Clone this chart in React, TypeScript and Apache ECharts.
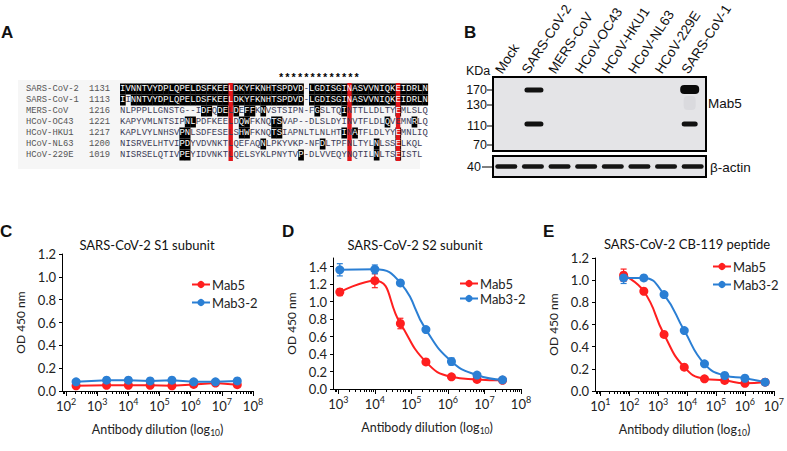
import React, { useEffect, useRef } from 'react';
import * as echarts from 'echarts';

// ---------- Panel A: alignment ----------
const alignNames = ['SARS-CoV-2', 'SARS-CoV-1', 'MERS-CoV', 'HCoV-OC43', 'HCoV-HKU1', 'HCoV-NL63', 'HCoV-229E'];
const alignStarts = ['1131', '1113', '1216', '1221', '1217', '1200', '1019'];
const alignSeqs = [
  'IVNNTVYDPLQPELDSFKEELDKYFKNHTSPDVD-LGDISGINASVVNIQKEIDRLN',
  'IINNTVYDPLQPELDSFKEELDKYFKNHTSPDVD-LGDISGINASVVNIQKEIDRLN',
  'NLPPPLLGNSTG--IDFQDELDEFFKNVSTSIPN-FGSLTQINTTLLDLTYEMLSLQ',
  'KAPYVMLNTSIPNLPDFKEELDQWFKNQTSVAP--DLSLDYINVTFLDLQVEMNRLQ',
  'KAPLVYLNHSVPNLSDFESELSHWFKNQTSIAPNLTLNLHTINATFLDLYYEMNLIQ',
  'NISRVELHTVIPDYVDVNKTLQEFAQNLPKYVKP-NFDLTPFNLTYLNLSSELKQL',
  'NISRSELQTIVPEYIDVNKTLQELSYKLPNYTVP-DLVVEQYNQTILNLTSEISTL',
];
// shaded (similar) positions for the non-SARS rows
const alignShaded: number[][] = [
  [],
  [],
  [15, 16, 18, 19, 21, 23, 24, 26, 36, 41, 51],
  [12, 13, 22, 23, 28, 29, 49, 54],
  [11, 12, 22, 23, 28, 29, 41, 43, 51],
  [11, 12, 26, 37, 47, 51],
  [11, 12, 33, 47, 51],
];
const conservedCols = [20, 42, 51];
const epitopeStars = '*************';

// ---------- Panel B: western blot ----------
const laneLabels = ['Mock', 'SARS-CoV-2', 'MERS-CoV', 'HCoV-OC43', 'HCoV-HKU1', 'HCoV-NL63', 'HCoV-229E', 'SARS-CoV-1'];
const kdaMarkers = ['170', '130', '110', '70'];
const kdaMarkerY = [90, 105, 126, 145];
const mab5BandLanes = [1, 7];

// ---------- Panel C ----------
const cDilution = [210, 2000, 10000, 50000, 250000, 1250000, 6250000, 31250000];
const cMab5 = [0.046, 0.05, 0.05, 0.05, 0.046, 0.058, 0.07, 0.055];
const cMab5Sd = [0.012, 0.012, 0.012, 0.012, 0.012, 0.012, 0.012, 0.012];
const cMab32 = [0.08, 0.095, 0.095, 0.088, 0.095, 0.08, 0.08, 0.088];
const cMab32Sd = [0.02, 0.02, 0.02, 0.02, 0.02, 0.015, 0.015, 0.015];
const cDecades = [2, 3, 4, 5, 6, 7, 8];
const cYTicks = [0, 0.2, 0.4, 0.6, 0.8, 1.0, 1.2];

// ---------- Panel D ----------
const dDilution = [1100, 10000, 50000, 250000, 1250000, 6250000, 31250000];
const dMab5 = [1.11, 1.24, 0.75, 0.31, 0.14, 0.11, 0.1];
const dMab5Sd = [0.04, 0.08, 0.06, 0.02, 0.01, 0.01, 0.01];
const dMab32 = [1.365, 1.37, 1.215, 0.68, 0.315, 0.16, 0.105];
const dMab32Sd = [0.07, 0.05, 0.02, 0.02, 0.04, 0.025, 0.01];
const dDecades = [3, 4, 5, 6, 7, 8];
const dYTicks = [0, 0.2, 0.4, 0.6, 0.8, 1.0, 1.2, 1.4];

// ---------- Panel E ----------
const eDilution = [64, 320, 1600, 8000, 40000, 200000, 1000000, 5000000];
const eMab5 = [1.045, 0.9, 0.51, 0.215, 0.11, 0.095, 0.07, 0.08];
const eMab5Sd = [0.055, 0.01, 0.01, 0.01, 0.01, 0.01, 0.01, 0.01];
const eMab32 = [1.02, 1.02, 0.87, 0.545, 0.245, 0.14, 0.115, 0.08];
const eMab32Sd = [0.05, 0.01, 0.01, 0.01, 0.01, 0.01, 0.01, 0.01];
const eDecades = [1, 2, 3, 4, 5, 6, 7];
const eYTicks = [0, 0.2, 0.4, 0.6, 0.8, 1.0, 1.2];

const RED = '#ff1f1f';
const BLUE = '#2b7fd4';
const FONT = 'Lato, "Open Sans", sans-serif';
const ARIAL = '"Liberation Sans", Arial, sans-serif';
const MONO = '"Liberation Mono", "DejaVu Sans Mono", monospace';

function txt(text: string, x: number, y: number, o: any = {}) {
  return {
    type: 'text', x, y, z: o.z ?? 10, silent: true, rotation: o.rotation ?? 0,
    style: {
      text, fill: o.fill ?? '#111', fontSize: o.fontSize ?? 12, fontFamily: o.fontFamily ?? ARIAL,
      fontWeight: o.fontWeight ?? 'normal', textAlign: o.align ?? 'left', textVerticalAlign: o.valign ?? 'middle',
    },
  };
}
function rect(x: number, y: number, w: number, h: number, fill: string, o: any = {}) {
  return {
    type: 'rect', z: o.z ?? 5, silent: true,
    shape: { x, y, width: w, height: h, r: o.r ?? 0 },
    style: { fill, stroke: o.stroke ?? null, lineWidth: o.lineWidth ?? 0 },
  };
}

function buildGraphics() {
  const g: any[] = [];
  // panel letters
  g.push(txt('A', 1, 32, { fontSize: 17, fontWeight: 'bold' }));
  g.push(txt('B', 464, 32, { fontSize: 17, fontWeight: 'bold' }));
  g.push(txt('C', 0, 231, { fontSize: 17, fontWeight: 'bold' }));
  g.push(txt('D', 282, 231, { fontSize: 17, fontWeight: 'bold' }));
  g.push(txt('E', 543, 231, { fontSize: 17, fontWeight: 'bold' }));

  // ----- alignment -----
  const cw = 5.4, x0 = 120;
  const rowY = [89, 100, 111, 122, 133, 144, 155];
  g.push(rect(18, 80, 402, 89, '#f6f6f6', { z: 1 }));
  alignSeqs.forEach((seq, r) => {
    const y = rowY[r];
    g.push(txt(alignNames[r], 26, y, { fontFamily: MONO, fontSize: 8.8, fill: '#555', z: 6 }));
    g.push(txt(alignStarts[r], 89, y, { fontFamily: MONO, fontSize: 8.8, fill: '#555', z: 6 }));
    const shaded = new Set<number>();
    if (r < 2) {
      for (let i = 0; i < seq.length; i++) if (seq[i] !== '-' && seq[i] === alignSeqs[0][i]) shaded.add(i);
    } else alignShaded[r].forEach((i) => shaded.add(i));
    shaded.forEach((i) => g.push(rect(x0 + i * cw, y - 5.5, cw + 0.3, 11, '#000', { z: 3 })));
    for (let i = 0; i < seq.length; i++) {
      g.push(txt(seq[i], x0 + i * cw + cw / 2, y, {
        fontFamily: MONO, fontSize: 8.9, align: 'center', fill: shaded.has(i) ? '#fff' : '#3a3a55', z: 8,
      }));
    }
  });
  conservedCols.forEach((i) => g.push(rect(x0 + i * cw + 0.5, 83, cw - 1, 78, '#e3151a', { z: 4 })));
  g.push(txt(epitopeStars, 278, 83.3, { fontFamily: MONO, fontSize: 10.5, fontWeight: 'bold', fill: '#000', valign: 'bottom' }));

  // ----- western blot -----
  const bx = 493, bw = 213, laneW = bw / 8;
  const laneC = laneLabels.map((_, i) => bx + laneW * (i + 0.5));
  laneLabels.forEach((l, i) => g.push(txt(l, laneC[i] - 2, 76, { fontSize: 13.5, valign: 'bottom', rotation: (57 * Math.PI) / 180 })));
  g.push(txt('KDa', 466, 71, { fontSize: 12.5 }));
  g.push(rect(bx, 77, bw, 74, '#e4e4e7', { stroke: '#000', lineWidth: 2, z: 3 }));
  g.push(rect(bx, 156, bw, 21, '#e4e4e7', { stroke: '#000', lineWidth: 2, z: 3 }));
  kdaMarkers.forEach((m, i) => {
    g.push(txt(m, 487, kdaMarkerY[i], { fontSize: 12.5, align: 'right' }));
    g.push({ type: 'line', z: 4, silent: true, shape: { x1: 487, y1: kdaMarkerY[i], x2: 493, y2: kdaMarkerY[i] }, style: { stroke: '#000', lineWidth: 1 } });
  });
  g.push(txt('40', 481, 167, { fontSize: 12.5, align: 'right' }));
  g.push({ type: 'line', z: 4, silent: true, shape: { x1: 482, y1: 167, x2: 493, y2: 167 }, style: { stroke: '#000', lineWidth: 1 } });
  g.push(txt('Mab5', 708, 103, { fontSize: 13.5 }));
  g.push(txt('β-actin', 710, 167, { fontSize: 13.5 }));
  // Mab5 bands
  mab5BandLanes.forEach((li, k) => {
    const c = laneC[li] + (k === 0 ? 1 : -3);
    if (k === 0) {
      g.push(rect(c - 9.5, 87.5, 19, 5, '#111', { r: 2.5, z: 6 }));
    } else {
      g.push(rect(c - 9.5, 85, 19, 9, '#0a0a0a', { r: 4, z: 6 }));
      g.push(rect(c - 6, 96, 12, 14, '#dadade', { r: 4, z: 5 }));
    }
    g.push(rect(c - (k === 0 ? 9.5 : 8), 121.5, k === 0 ? 19 : 16, 5, '#111', { r: 2.5, z: 6 }));
  });
  // actin
  laneC.forEach((c) => g.push(rect(c - 11, 164.2, 22, 4.6, '#141414', { r: 2.2, z: 6 })));

  // chart titles
  g.push(txt('SARS-CoV-2 S1 subunit', 147, 245, { fontFamily: FONT, fontSize: 13, align: 'center' }));
  g.push(txt('SARS-CoV-2 S2 subunit', 415, 245, { fontFamily: FONT, fontSize: 13, align: 'center' }));
  g.push(txt('SARS-CoV-2 CB-119 peptide', 687, 244, { fontFamily: FONT, fontSize: 13, align: 'center' }));
  return g;
}

function minorTicks(min: number, max: number) {
  const out: number[] = [];
  for (let n = Math.floor(min); n < max; n++) {
    for (let k = 2; k <= 9; k++) {
      const v = n + Math.log10(k);
      if (v >= min && v <= max) out.push(v);
    }
  }
  return out;
}

function errSeries(name: string, gi: number, dil: number[], val: number[], sd: number[], color: string) {
  return {
    type: 'custom', name, xAxisIndex: gi * 2, yAxisIndex: gi, z: 3, silent: true,
    data: dil.map((d, i) => [Math.log10(d), val[i] - sd[i], val[i] + sd[i]]),
    encode: { x: 0, y: [1, 2] },
    renderItem: (_p: any, api: any) => {
      const x = api.value(0);
      const a = api.coord([x, api.value(1)]);
      const b = api.coord([x, api.value(2)]);
      const w = 3;
      const st = { stroke: color, lineWidth: 1.2 };
      return {
        type: 'group',
        children: [
          { type: 'line', shape: { x1: a[0], y1: a[1], x2: b[0], y2: b[1] }, style: st },
          { type: 'line', shape: { x1: a[0] - w, y1: a[1], x2: a[0] + w, y2: a[1] }, style: st },
          { type: 'line', shape: { x1: b[0] - w, y1: b[1], x2: b[0] + w, y2: b[1] }, style: st },
        ],
      };
    },
  };
}

function lineSeries(name: string, gi: number, dil: number[], val: number[], color: string, smooth: boolean) {
  return {
    type: 'line', name, xAxisIndex: gi * 2, yAxisIndex: gi, z: 5,
    data: dil.map((d, i) => [Math.log10(d), val[i]]),
    symbol: 'circle', symbolSize: 9, smooth: smooth ? 0.5 : false,
    lineStyle: { color, width: 2 }, itemStyle: { color },
  };
}

export default function App() {
  const ref = useRef<HTMLDivElement>(null);
  useEffect(() => {
    if (!ref.current) return;
    const chart = echarts.init(ref.current, null, { renderer: 'svg' });
    const panels = [
      { grid: { left: 62, top: 254, width: 191, height: 137 }, xMin: 1.87, xMax: 8, yMax: 1.2, dec: cDecades, yt: cYTicks, dil: cDilution, m5: cMab5, m5s: cMab5Sd, m3: cMab32, m3s: cMab32Sd, smooth: false, leg: { left: 191, top: 278, gap: 5 } },
      { grid: { left: 333, top: 258, width: 188, height: 131 }, xMin: 2.855, xMax: 8, yMax: 1.5, dec: dDecades, yt: dYTicks, dil: dDilution, m5: dMab5, m5s: dMab5Sd, m3: dMab32, m3s: dMab32Sd, smooth: true, leg: { left: 459, top: 277, gap: 2 } },
      { grid: { left: 595, top: 258, width: 179, height: 133 }, xMin: 0.817, xMax: 7, yMax: 1.2, dec: eDecades, yt: eYTicks, dil: eDilution, m5: eMab5, m5s: eMab5Sd, m3: eMab32, m3s: eMab32Sd, smooth: true, leg: { left: 712, top: 260, gap: 5 } },
    ];
    const xAxis: any[] = [];
    const yAxis: any[] = [];
    const series: any[] = [];
    const legend: any[] = [];
    panels.forEach((p, gi) => {
      xAxis.push({
        type: 'value', gridIndex: gi, min: p.xMin, max: p.xMax, position: 'bottom',
        axisLine: { onZero: false, lineStyle: { color: '#000', width: 1 } },
        axisTick: { length: 5, customValues: p.dec, lineStyle: { color: '#000' } },
        axisLabel: {
          customValues: p.dec, margin: 6, color: '#222',
          formatter: (v: number) => `{b|10}{s|${Math.round(v)}}`,
          rich: {
            b: { fontSize: 13, fontFamily: FONT, color: '#222', lineHeight: 18 },
            s: { fontSize: 9, fontFamily: FONT, color: '#222', verticalAlign: 'top', lineHeight: 10 },
          },
        },
        splitLine: { show: false },
        name: '{n|Antibody dilution (log}{u|10}{n|)}', nameLocation: 'middle', nameGap: 30,
        nameTextStyle: {
          rich: {
            n: { fontSize: 12.5, fontFamily: FONT, color: '#222', lineHeight: 16 },
            u: { fontSize: 8.5, fontFamily: FONT, color: '#222', verticalAlign: 'bottom', lineHeight: 9 },
          },
        },
      });
      xAxis.push({
        type: 'value', gridIndex: gi, min: p.xMin, max: p.xMax, position: 'bottom',
        axisLine: { show: false, onZero: false },
        axisTick: { length: 3, customValues: minorTicks(p.xMin, p.xMax), lineStyle: { color: '#000' } },
        axisLabel: { show: false }, splitLine: { show: false },
      });
      yAxis.push({
        type: 'value', gridIndex: gi, min: 0, max: p.yMax,
        axisLine: { show: true, lineStyle: { color: '#000', width: 1 } },
        axisTick: { show: true, length: 3, customValues: p.yt, lineStyle: { color: '#000' } },
        axisLabel: { customValues: p.yt, formatter: (v: number) => v.toFixed(1), fontSize: 13, fontFamily: FONT, color: '#222', margin: 6 },
        splitLine: { show: false },
        name: 'OD 450 nm', nameLocation: 'middle', nameGap: 36,
        nameTextStyle: { fontSize: 12, fontFamily: FONT, color: '#222' },
      });
      series.push(errSeries(`err5-${gi}`, gi, p.dil, p.m5, p.m5s, RED));
      series.push(errSeries(`err3-${gi}`, gi, p.dil, p.m3, p.m3s, BLUE));
      series.push(lineSeries('Mab5', gi, p.dil, p.m5, RED, p.smooth));
      series.push(lineSeries('Mab3-2', gi, p.dil, p.m3, BLUE, p.smooth));
      legend.push({
        data: ['Mab5', 'Mab3-2'], orient: 'vertical', left: p.leg.left, top: p.leg.top,
        itemWidth: 18, itemHeight: 9, itemGap: p.leg.gap, selectedMode: false, padding: 0,
        textStyle: { fontSize: 13, fontFamily: FONT, color: '#222', padding: [0, 0, 0, -3] },
      });
    });
    chart.setOption({
      animation: false,
      backgroundColor: '#fff',
      grid: panels.map((p) => ({ ...p.grid, containLabel: false })),
      xAxis, yAxis, series, legend,
      graphic: buildGraphics(),
    });
    return () => chart.dispose();
  }, []);
  return <div ref={ref} style={{ position: 'absolute', left: 0, top: 0, width: 787, height: 451, background: '#fff' }} />;
}
